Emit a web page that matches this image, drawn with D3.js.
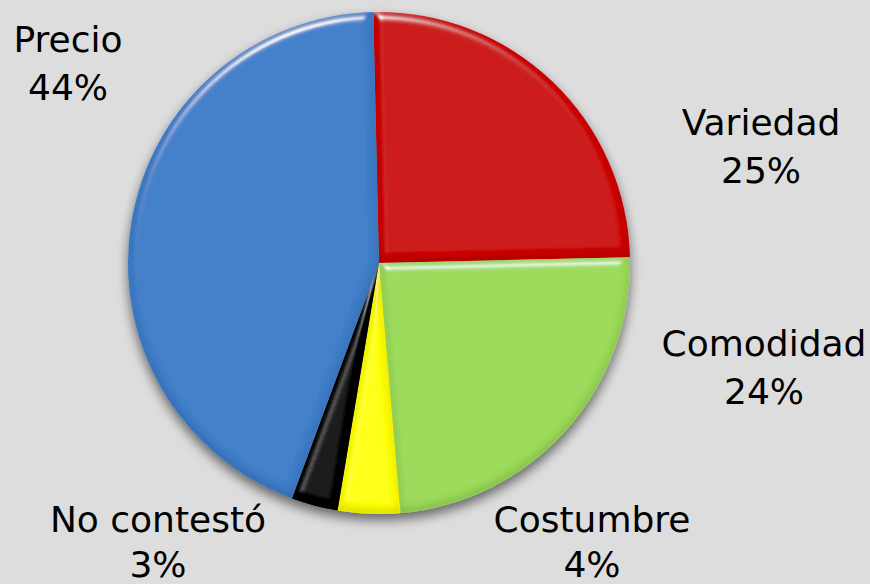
<!DOCTYPE html>
<html><head><meta charset="utf-8">
<script src="https://cdn.jsdelivr.net/npm/d3@7"></script>
<style>html,body{margin:0;padding:0;background:#dddddd;}svg{display:block;}</style>
</head><body>
<script>
const categories = ["Variedad","Comodidad","Costumbre","No contestó","Precio"];
const values = [25,24,4,3,44];
const labels = ["25%","24%","4%","3%","44%"];
const colors = ["#cc0000","#9bdb5a","#ffff00","#050505","#3f7ec9"];
const labelPos = [[761,135],[764,356],[592,532],[158,532],[68,52]];
const lineGap = [48,48,45,45,48];

const W=870,H=584, cx=379, cy=263, R=251;
const svg=d3.select("body").append("svg").attr("width",W).attr("height",H);
svg.append("rect").attr("width",W).attr("height",H).attr("fill","#dddddd");
const defs=svg.append("defs");

// drop shadow
const sh=defs.append("filter").attr("id","shadow").attr("x","-20%").attr("y","-20%").attr("width","140%").attr("height","140%");
sh.append("feGaussianBlur").attr("in","SourceAlpha").attr("stdDeviation",6).attr("result","b");
sh.append("feOffset").attr("in","b").attr("dx",0).attr("dy",6).attr("result","o");
sh.append("feComponentTransfer").attr("in","o").attr("result","o2").append("feFuncA").attr("type","linear").attr("slope",0.55);
const m=sh.append("feMerge"); m.append("feMergeNode").attr("in","o2"); m.append("feMergeNode").attr("in","SourceGraphic");

// bevel
const bv=defs.append("filter").attr("id","bevel").attr("x","-5%").attr("y","-5%").attr("width","110%").attr("height","110%");
bv.append("feGaussianBlur").attr("in","SourceAlpha").attr("stdDeviation",4).attr("result","blur");
const sp=bv.append("feSpecularLighting").attr("in","blur").attr("surfaceScale",5).attr("specularConstant",0.9)
  .attr("specularExponent",45).attr("lighting-color","#ffffff").attr("result","spec");
sp.append("feDistantLight").attr("azimuth",250).attr("elevation",40);
bv.append("feComposite").attr("in","spec").attr("in2","SourceAlpha").attr("operator","in").attr("result","specIn");
// inner dark edge
bv.append("feOffset").attr("in","blur").attr("dx",0).attr("dy",-3).attr("result","ob");
bv.append("feComposite").attr("in","SourceAlpha").attr("in2","ob").attr("operator","out").attr("result","edge");
bv.append("feGaussianBlur").attr("in","edge").attr("stdDeviation",1.5).attr("result","edgeB");
bv.append("feFlood").attr("flood-color","#000").attr("flood-opacity",0.4).attr("result","fl");
bv.append("feComposite").attr("in","fl").attr("in2","edgeB").attr("operator","in").attr("result","dark");
bv.append("feComposite").attr("in","dark").attr("in2","SourceAlpha").attr("operator","in").attr("result","darkIn");
const mm=bv.append("feMerge");
mm.append("feMergeNode").attr("in","SourceGraphic");
mm.append("feMergeNode").attr("in","darkIn");
mm.append("feMergeNode").attr("in","specIn");

const rot=-1.3*Math.PI/180;
const pie=d3.pie().sort(null).startAngle(rot).endAngle(rot+2*Math.PI);
const arcs=pie(values);
const arc=d3.arc().innerRadius(0).outerRadius(R);

const g=svg.append("g").attr("transform",`translate(${cx},${cy})`).attr("filter","url(#shadow)");
g.selectAll("path").data(arcs).enter().append("path")
  .attr("d",arc).attr("fill",(d,i)=>colors[i]).attr("filter","url(#bevel)");

const tg=svg.append("g").attr("font-family","DejaVu Sans, Verdana, sans-serif").attr("font-size",36).attr("fill","#000").attr("text-anchor","middle");
categories.forEach((c,i)=>{
  const t=tg.append("text").attr("x",labelPos[i][0]).attr("y",labelPos[i][1]);
  t.append("tspan").attr("x",labelPos[i][0]).text(c);
  t.append("tspan").attr("x",labelPos[i][0]).attr("dy",lineGap[i]).text(labels[i]);
});
</script>
</body></html>
